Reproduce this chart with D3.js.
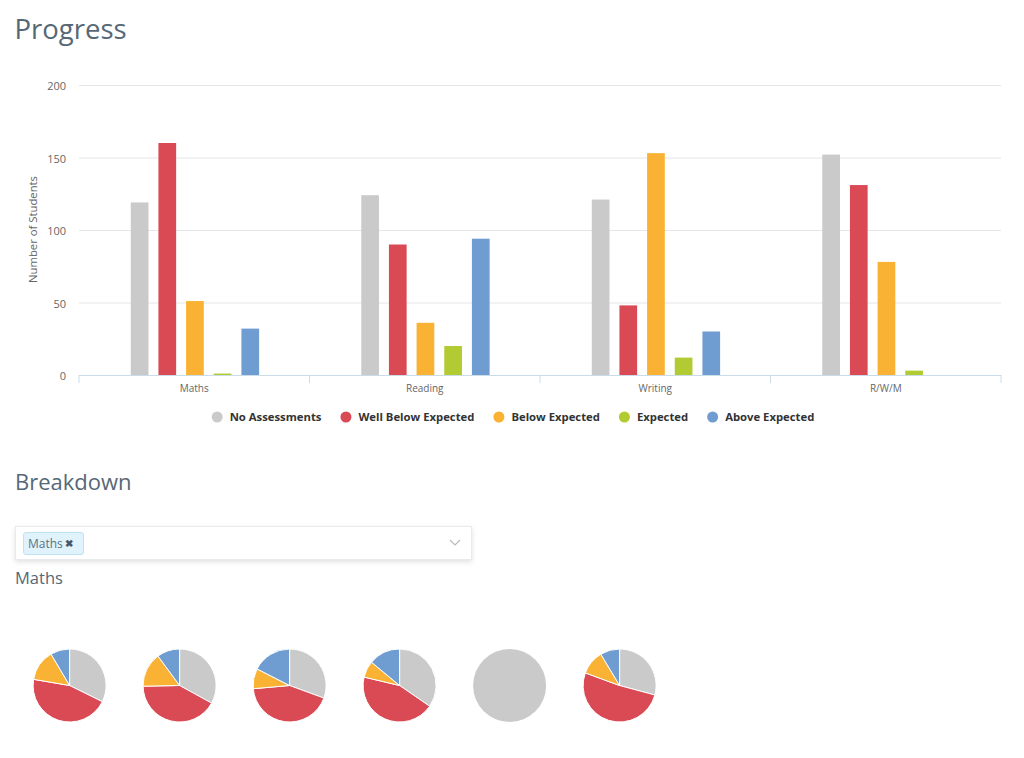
<!DOCTYPE html>
<html lang="en">
<head>
<meta charset="UTF-8">
<title>Progress</title>
<script src="https://d3js.org/d3.v7.min.js"></script>
<style>
    html, body { margin: 0; background: #fff; overflow: hidden; }
    body { width: 1024px; height: 758px; position: relative; font-family: "Open Sans", sans-serif; color: #566876; }
    h1, h2, h3 { margin: 0; font-weight: 400; position: absolute; left: 15px; white-space: nowrap; }
    h1 { top: 10px; left: 14.5px; font-size: 27.5px; line-height: 38px; }
    h2 { top: 465px; font-size: 22px; line-height: 32px; }
    h3 { top: 566px; font-size: 16.5px; line-height: 24px; }
    svg { position: absolute; left: 0; top: 0; }
    .select { position: absolute; left: 15px; top: 526px; width: 455px; height: 32px; border: 1px solid #e8eaec; box-shadow: 0 2px 5px rgba(0,0,0,.12); background: #fff; }
    .tag { position: absolute; left: 7px; top: 5px; width: 59px; height: 21px; line-height: 21px; border: 1px solid #bfe2f2; border-radius: 3px; background: #e0f2fb; font-size: 12px; text-indent: 4px; color: #5d7484; }
    .tag b { color: #44586a; font-size: 10px; margin-left: -1px; position: relative; top: -1px; }
    .chevron { position: absolute; right: 10px; top: 12px; }
    .tick text { font-family: "Open Sans", sans-serif; font-size: 10px; fill: #666; }
    .yAxis .tick text { font-size: 11px; }
    .legend text { font-family: "Open Sans", sans-serif; font-size: 11.3px; font-weight: 700; fill: #333; }
    .yTitle { font-family: "Open Sans", sans-serif; font-size: 11.3px; fill: #666; }
</style>
</head>
<body>
<h1>Progress</h1>
<h2>Breakdown</h2>
<div class="select">
    <div class="tag">Maths <b>&#10006;</b></div>
    <svg class="chevron" style="position:absolute;left:auto" width="12" height="8"><path d="M1 1 L6 6 L11 1" fill="none" stroke="#bbb" stroke-width="1.2"/></svg>
</div>
<h3>Maths</h3>

<script>
    const categories = ["Maths", "Reading", "Writing", "R/W/M"]
    const seriesNames = ["No Assessments", "Well Below Expected", "Below Expected", "Expected", "Above Expected"]
    const colors = ["#cacaca", "#d94a55", "#f9b233", "#b2cb33", "#6f9dd2"]
    const yTicks = [0, 50, 100, 150, 200]

    const noAssessments = [119, 124, 121, 152]
    const wellBelow = [160, 90, 48, 131]
    const below = [51, 36, 153, 78]
    const expected = [1, 20, 12, 3]
    const above = [32, 94, 30, 0]
    const barSeries = [noAssessments, wellBelow, below, expected, above]

    const pie1 = [32.3, 45.4, 13.8, 0, 8.5]
    const pie2 = [33, 41.7, 15.2, 0, 10.1]
    const pie3 = [30.6, 43, 8.9, 0, 17.5]
    const pie4 = [34.6, 44.1, 7.3, 0, 14]
    const pie5 = [100, 0, 0, 0, 0]
    const pie6 = [29.2, 51.4, 10.8, 0, 8.6]
    const pies = [pie1, pie2, pie3, pie4, pie5, pie6]

    const svg = d3.select("body").append("svg")
        .attr("width", 1024)
        .attr("height", 758)

    const plotLeft = 79, plotRight = 1001, plotTop = 85, plotBottom = 375

    const x = d3.scaleBand().domain(categories).range([plotLeft, plotRight])
    const inner = d3.scaleBand().domain(seriesNames)
        .range([x.bandwidth() * 0.203, x.bandwidth() * 0.803])
        .paddingInner(0.36).paddingOuter(0.18)
    const y = d3.scaleLinear().domain([0, 200]).range([plotBottom, plotTop])

    // grid + y labels
    const yAxis = svg.append("g")
        .attr("class", "yAxis")
        .attr("transform", "translate(" + plotLeft + ",0)")
        .call(d3.axisLeft(y).tickValues(yTicks).tickSize(-(plotRight - plotLeft)).tickPadding(13))
    yAxis.select(".domain").remove()
    yAxis.selectAll(".tick line").attr("stroke", "#e4e6e8")
    yAxis.selectAll(".tick text").attr("dy", "0.42em")

    svg.append("text")
        .attr("class", "yTitle")
        .attr("transform", "translate(37," + (y(100) - 0.5) + ") rotate(-90)")
        .attr("text-anchor", "middle")
        .text("Number of Students")

    // bars
    seriesNames.forEach(function(name, i) {
        svg.append("g").selectAll("rect")
            .data(barSeries[i])
            .enter()
            .append("rect")
            .attr("x", function(d, j) { return x(categories[j]) + inner(name) })
            .attr("y", function(d) { return y(d) })
            .attr("width", inner.bandwidth())
            .attr("height", function(d) { return y(0) - y(d) })
            .attr("fill", colors[i])
    })

    // x axis, ticks sit on the band edges
    const xAxis = svg.append("g")
        .attr("transform", "translate(0," + plotBottom + ")")
        .call(d3.axisBottom(x).tickSize(0).tickPadding(10))
    xAxis.select(".domain").attr("stroke", "#c9dce8")
    svg.append("g").selectAll("line")
        .data(categories.concat(["end"]))
        .enter()
        .append("line")
        .attr("x1", function(d, i) { return plotLeft + i * x.step() })
        .attr("x2", function(d, i) { return plotLeft + i * x.step() })
        .attr("y1", plotBottom)
        .attr("y2", plotBottom + 8)
        .attr("stroke", "#c9dce8")

    // legend, centred under the plot from measured text widths
    const legend = svg.append("g").attr("class", "legend")
    const items = legend.selectAll("g").data(seriesNames).enter().append("g")
    items.append("circle").attr("r", 5.5).attr("cx", 5.5).attr("cy", -4).attr("fill", function(d, i) { return colors[i] })
    items.append("text").attr("x", 18).text(function(d) { return d })
    let pos = 0
    items.each(function() {
        const g = d3.select(this)
        g.attr("transform", "translate(" + pos + ",0)")
        pos += 18 + g.select("text").node().getComputedTextLength() + 19
    })
    legend.attr("transform", "translate(" + (513 - (pos - 19) / 2) + ",421)")

    // pies
    const pieGen = d3.pie().sort(null)
    const arc = d3.arc().innerRadius(0).outerRadius(36.5)
    const pieX = d3.scalePoint().domain(d3.range(pies.length)).range([69.6, 619.6])

    pies.forEach(function(values, i) {
        const g = svg.append("g").attr("transform", "translate(" + pieX(i) + ",685.5)")
        g.selectAll("path")
            .data(pieGen(values).filter(function(d) { return d.data > 0 }))
            .enter()
            .append("path")
            .attr("d", arc)
            .attr("fill", function(d) { return colors[d.index] })
            .attr("stroke", "#fff")
            .attr("stroke-width", function(d) { return d.data == 100 ? 0 : 1 })
    })
</script>
</body>
</html>
